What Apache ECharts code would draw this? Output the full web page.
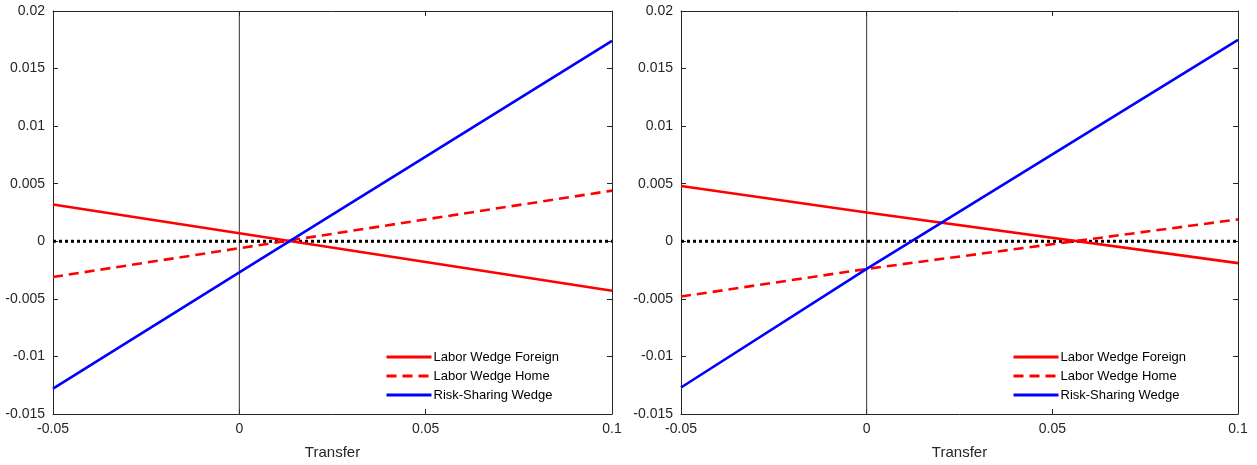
<!DOCTYPE html>
<html><head><meta charset="utf-8">
<script src="https://cdn.jsdelivr.net/npm/echarts@6/dist/echarts.min.js"></script>
<style>html,body{margin:0;padding:0;background:#fff}#c{width:1257px;height:465px}</style>
</head><body><div id="c"></div>
<script>
// Transfer values (x)
const transfer = [-0.05, 0, 0.1];
// Left panel
const leftForeign = [0.0032, 0.0007, -0.0043];
const leftHome = [-0.0031, -0.0006, 0.0044];
const leftRisk = [-0.0128, -0.0027, 0.0174];
// Right panel
const rightForeign = [0.0048, 0.0025, -0.0019];
const rightHome = [-0.0048, -0.0024, 0.0019];
const rightRisk = [-0.0127, -0.0024, 0.0175];
const names = ['Labor Wedge Foreign', 'Labor Wedge Home', 'Risk-Sharing Wedge'];
const xTicks = [-0.05, 0, 0.05, 0.1];
const yTicks = [-0.015, -0.01, -0.005, 0, 0.005, 0.01, 0.015, 0.02];

const FONT = 'Liberation Sans';
const axisCol = '#262626';
const chart = echarts.init(document.getElementById('c'), null, {renderer: 'canvas'});
const pair = (ys) => transfer.map((x, i) => [x, ys[i]]);
const fmt = v => { const r = Math.round(v * 1000) / 1000; return String(r); };

const grids = [
  {left: 53, right: 645, top: 11, bottom: 49},
  {left: 681, right: 19, top: 11, bottom: 49}
];
const xAxes = [], yAxes = [];
for (let g = 0; g < 2; g++) {
  xAxes.push({type: 'value', gridIndex: g, min: xTicks[0], max: xTicks[xTicks.length - 1], interval: 0.05, position: 'bottom',
    name: 'Transfer', nameLocation: 'middle', nameGap: 31,
    nameTextStyle: {fontFamily: FONT, fontSize: 15, color: axisCol},
    axisLine: {onZero: false, lineStyle: {color: axisCol, width: 1}},
    axisTick: {inside: true, length: 5, lineStyle: {color: axisCol}},
    axisLabel: {fontFamily: FONT, fontSize: 14, color: axisCol, margin: 8, formatter: fmt},
    splitLine: {show: false}});
  xAxes.push({type: 'value', gridIndex: g, min: xTicks[0], max: xTicks[xTicks.length - 1], interval: 0.05, position: 'top',
    axisLine: {onZero: false, lineStyle: {color: axisCol, width: 1}},
    axisTick: {inside: true, length: 5, lineStyle: {color: axisCol}},
    axisLabel: {show: false}, splitLine: {show: false}});
  yAxes.push({type: 'value', gridIndex: g, min: yTicks[0], max: yTicks[yTicks.length - 1], interval: 0.005, position: 'left',
    axisLine: {onZero: false, lineStyle: {color: axisCol, width: 1}},
    axisTick: {inside: true, length: 5, lineStyle: {color: axisCol}},
    axisLabel: {fontFamily: FONT, fontSize: 14, color: axisCol, margin: 8, formatter: fmt},
    splitLine: {show: false}});
  yAxes.push({type: 'value', gridIndex: g, min: yTicks[0], max: yTicks[yTicks.length - 1], interval: 0.005, position: 'right',
    axisLine: {onZero: false, lineStyle: {color: axisCol, width: 1}},
    axisTick: {inside: true, length: 5, lineStyle: {color: axisCol}},
    axisLabel: {show: false}, splitLine: {show: false}});
}

const series = [];
const panels = [[leftForeign, leftHome, leftRisk], [rightForeign, rightHome, rightRisk]];
panels.forEach((p, g) => {
  const xi = g * 2, yi = g * 2;
  series.push({type: 'line', xAxisIndex: xi, yAxisIndex: yi, silent: true, symbol: 'none',
    data: [[0, yTicks[0]], [0, yTicks[yTicks.length - 1]]], lineStyle: {color: '#333', width: 1}, z: 1});
  series.push({type: 'line', xAxisIndex: xi, yAxisIndex: yi, silent: true, symbol: 'none',
    data: [[xTicks[0], 0], [xTicks[xTicks.length - 1], 0]], lineStyle: {color: '#000', width: 3, type: [3, 3]}, z: 2});
  series.push({name: names[0], type: 'line', xAxisIndex: xi, yAxisIndex: yi, symbol: 'none',
    data: pair(p[0]), lineStyle: {color: '#ff0000', width: 2.6}, itemStyle: {color: '#ff0000'}, z: 3});
  series.push({name: names[1], type: 'line', xAxisIndex: xi, yAxisIndex: yi, symbol: 'none',
    data: pair(p[1]), lineStyle: {color: '#ff0000', width: 2.6, type: [10, 6]}, itemStyle: {color: '#ff0000'}, z: 3});
  series.push({name: names[2], type: 'line', xAxisIndex: xi, yAxisIndex: yi, symbol: 'none',
    data: pair(p[2]), lineStyle: {color: '#0000ff', width: 2.6}, itemStyle: {color: '#0000ff'}, z: 4});
});

const legendBase = {orient: 'vertical', data: names, itemWidth: 45, itemHeight: 14, itemGap: 5, padding: 0,
  itemStyle: {opacity: 0}, lineStyle: {width: 3},
  textStyle: {fontFamily: FONT, fontSize: 13, color: '#000', padding: [0, 0, 0, -3], lineHeight: 14}, selectedMode: false, top: 350};

chart.setOption({
  animation: false,
  backgroundColor: '#fff',
  grid: grids,
  xAxis: xAxes,
  yAxis: yAxes,
  legend: [Object.assign({left: 385}, legendBase), Object.assign({left: 1012}, legendBase)],
  series: series
});
</script></body></html>
